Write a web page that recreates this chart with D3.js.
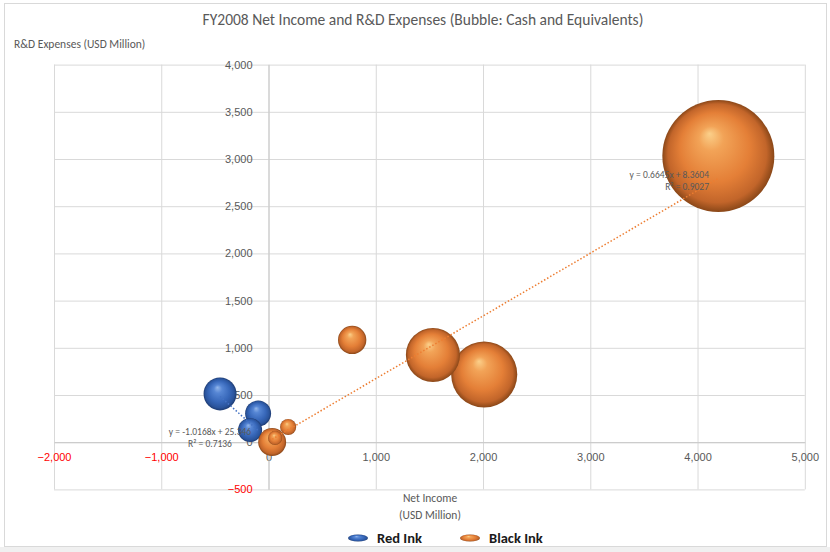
<!DOCTYPE html>
<html>
<head>
<meta charset="utf-8">
<script src="https://cdn.jsdelivr.net/npm/d3@7"></script>
<style>
  html, body { margin: 0; padding: 0; background: #ffffff; }
  svg { display: block; font-family: Carlito, Calibri, Lato, "Open Sans", sans-serif; }
</style>
</head>
<body>
<svg id="chart" width="830" height="552"></svg>
<script>
// FY2008 companies: net income vs. R&D expenses, bubble size = cash and equivalents (USD million)
const seriesNames = ["Red Ink", "Black Ink"];

const redInkNetIncome = [-452, -97, -172];
const redInkRnd       = [511, 304, 129];
const redInkCash      = [270, 168, 145];

const blackInkNetIncome = [4194, 2011, 1533, 780, 34, 61, 183];
const blackInkRnd       = [3032, 717, 924, 1083, 2, 44, 161];
const blackInkCash      = [3130, 1090, 730, 200, 195, 50, 65];

// linear trendlines (slope, intercept, R²) as shown in the labels
const redInkTrend   = [-1.0168, 25.346, 0.7136];
const blackInkTrend = [0.6645, 8.3604, 0.9027];
const redInkTrendText   = ["y = -1.0168x + 25.346", "R\u00B2 = 0.7136"];
const blackInkTrendText = ["y = 0.6645x + 8.3604", "R\u00B2 = 0.9027"];

const xTicks = [-2000, -1000, 0, 1000, 2000, 3000, 4000, 5000];
const yTicks = [-500, 0, 500, 1000, 1500, 2000, 2500, 3000, 3500, 4000];

const chartTitle = "FY2008 Net Income and R&D Expenses (Bubble: Cash and Equivalents)";
const yTitle = "R&D Expenses (USD Million)";
const xTitle = ["Net Income", "(USD Million)"];

const svg = d3.select("#chart");
const W = 830, H = 552;

// chart frame
svg.append("rect").attr("x", 0).attr("y", 547).attr("width", W).attr("height", 5).attr("fill", "#f0f0f0");
svg.append("rect").attr("x", 4.5).attr("y", 3.5).attr("width", 822).attr("height", 543)
  .attr("fill", "#ffffff").attr("stroke", "#d9d9d9");

const plot = { left: 54, right: 804.8, top: 64.6, bottom: 489.4 };
const x = d3.scaleLinear().domain([-2000, 5000]).range([plot.left, plot.right]);
const y = d3.scaleLinear().domain([-500, 4000]).range([plot.bottom, plot.top]);
const maxCash = d3.max(blackInkCash.concat(redInkCash));
const r = d3.scaleSqrt().domain([0, maxCash]).range([0, 56]);

const fmt = d3.format(",");
const textGrey = "#595959";

// gridlines
svg.append("g")
  .attr("transform", `translate(0,${plot.bottom})`)
  .call(d3.axisBottom(x).tickValues(xTicks).tickSize(-(plot.bottom - plot.top)).tickFormat(""))
  .call(g => g.select(".domain").remove())
  .call(g => g.selectAll("line").attr("stroke", "#d9d9d9"));
svg.append("g")
  .attr("transform", `translate(${plot.left},0)`)
  .call(d3.axisLeft(y).tickValues(yTicks).tickSize(-(plot.right - plot.left)).tickFormat(""))
  .call(g => g.select(".domain").remove())
  .call(g => g.selectAll("line").attr("stroke", "#d9d9d9"));

// axes crossing at zero
const xAxis = svg.append("g")
  .attr("transform", `translate(0,${y(0)})`)
  .call(d3.axisBottom(x).tickValues(xTicks).tickSize(0).tickPadding(11).tickFormat(fmt));
xAxis.select(".domain").attr("stroke", "#c8c8c8");
xAxis.selectAll("text").attr("font-size", 11).attr("font-family", null)
  .attr("fill", d => d < 0 ? "#ff0000" : textGrey);

const yAxis = svg.append("g")
  .attr("transform", `translate(${x(0)},0)`)
  .call(d3.axisLeft(y).tickValues(yTicks).tickSize(0).tickPadding(16).tickFormat(fmt));
yAxis.select(".domain").attr("stroke", "#c8c8c8");
yAxis.selectAll("text").attr("font-size", 11).attr("font-family", null)
  .attr("fill", d => d < 0 ? "#ff0000" : textGrey);

// sphere-like shading
const defs = svg.append("defs");
function sphere(id, stops) {
  const g = defs.append("radialGradient").attr("id", id)
    .attr("cx", "0.5").attr("cy", "0.5").attr("r", "0.5").attr("fx", "0.42").attr("fy", "0.3");
  stops.forEach(([o, c]) => g.append("stop").attr("offset", o).attr("stop-color", c));
}
sphere("gradBlack", [[0, "#fbd08a"], [0.22, "#f2a357"], [0.62, "#e47f37"], [0.88, "#c2652a"], [1, "#8a4718"]]);
sphere("gradRed", [[0, "#93b6ea"], [0.25, "#5686d4"], [0.64, "#3767b9"], [0.88, "#2a549c"], [1, "#1d3b72"]]);

const series = [
  { name: seriesNames[0], xs: redInkNetIncome, ys: redInkRnd, cs: redInkCash, fill: "url(#gradRed)", line: "#4472c4" },
  { name: seriesNames[1], xs: blackInkNetIncome, ys: blackInkRnd, cs: blackInkCash, fill: "url(#gradBlack)", line: "#ed7d31" }
];

series.forEach(s => {
  svg.append("g").selectAll("circle")
    .data(s.xs.map((v, i) => ({ x: v, y: s.ys[i], c: s.cs[i] })))
    .join("circle")
    .attr("cx", d => x(d.x)).attr("cy", d => y(d.y)).attr("r", d => r(d.c))
    .attr("fill", s.fill);
});

// trendlines
function trend(s, coef, lines, lx, ly, anchor) {
  const [m, b] = coef;
  const x0 = d3.min(s.xs), x1 = d3.max(s.xs);
  svg.append("line")
    .attr("x1", x(x0)).attr("y1", y(m * x0 + b))
    .attr("x2", x(x1)).attr("y2", y(m * x1 + b))
    .attr("stroke", s.line).attr("stroke-width", 1.5).attr("stroke-dasharray", "1.5,2");
  const t = svg.append("text").attr("font-size", 9.5).attr("fill", textGrey).attr("text-anchor", anchor);
  lines.forEach((txt, i) => t.append("tspan").attr("x", lx).attr("y", ly + i * 12).text(txt));
}
trend(series[0], redInkTrend, redInkTrendText, 210, 435, "middle");
trend(series[1], blackInkTrend, blackInkTrendText, 709, 178, "end");

// titles
svg.append("text").attr("x", 423).attr("y", 25).attr("text-anchor", "middle")
  .attr("font-size", 15.5).attr("fill", textGrey).text(chartTitle);
svg.append("text").attr("x", 14).attr("y", 48).attr("font-size", 11.5).attr("fill", textGrey).text(yTitle);
xTitle.forEach((t, i) => svg.append("text").attr("x", 430).attr("y", 502 + i * 17)
  .attr("text-anchor", "middle").attr("font-size", 11.5).attr("fill", textGrey).text(t));

// legend
const legend = svg.append("g");
const legendX = [358, 470];
series.forEach((s, i) => {
  legend.append("ellipse").attr("cx", legendX[i]).attr("cy", 538).attr("rx", 10).attr("ry", 3.6).attr("fill", s.fill);
  legend.append("text").attr("x", legendX[i] + 19).attr("y", 543).attr("font-size", 14.5)
    .attr("font-weight", 600).attr("fill", "#1a1a1a").text(s.name);
});
</script>
</body>
</html>
